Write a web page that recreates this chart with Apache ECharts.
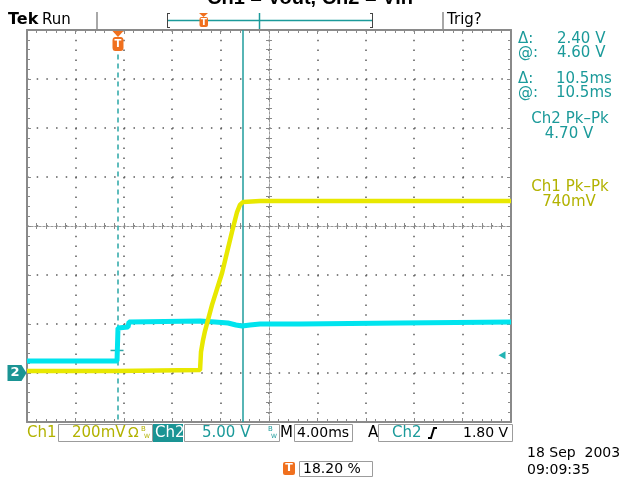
<!DOCTYPE html>
<html><head><meta charset="utf-8">
<script src="https://cdn.jsdelivr.net/npm/echarts/dist/echarts.min.js"></script>
<style>html,body{margin:0;padding:0;background:#fff}#c{width:624px;height:479px}</style>
</head><body><div id="c"></div>
<script>
// ---- data ----
const titleText = 'Ch1 = Vout, Ch2 = Vin';
const msPerDiv = 4;          // M 4.00ms
const ch1VoltsPerDiv = 0.2;  // 200mV
const ch2VoltsPerDiv = 5;    // 5.00 V
const groundDiv = -3;        // ground reference position (divisions from centre)

// Ch1 (Vout, yellow): time in ms from left edge, volts
const ch1Time  = [0, 7.44, 7.52, 14.30, 14.38, 14.55, 14.71, 15.29, 16.12, 16.94, 17.36, 17.60, 17.85, 19.26, 40];
const ch1Volts = [0.008, 0.008, 0.012, 0.012, 0.086, 0.135, 0.171, 0.278, 0.408, 0.576, 0.657, 0.686, 0.698, 0.702, 0.702];

// Ch2 (Vin, cyan)
const ch2Time  = [0, 7.44, 7.52, 8.35, 8.43, 14.30, 15.54, 16.61, 17.27, 17.77, 18.43, 19.26, 22.56, 30.83, 40];
const ch2Volts = [1.22, 1.22, 4.59, 4.69, 5.20, 5.31, 5.20, 5.10, 4.90, 4.80, 4.90, 5.00, 5.00, 5.10, 5.20];

const triggerTime = 7.52;    // trigger position (ms)
const cursorTime = 17.85;    // vertical cursor (ms)
const triggerLevel = 1.8;    // Ch2 trigger level (V)
const trigCrossLevel = 2.3;  // small cross at trigger point (V)

const cursorReadouts = [['Δ:', '2.40 V'], ['@:', '4.60 V'], ['Δ:', '10.5ms'], ['@:', '10.5ms']];
const ch2Measure = ['Ch2 Pk–Pk', '4.70 V'];
const ch1Measure = ['Ch1 Pk–Pk', '740mV'];
const ch1Scale = '200mV', ch2Scale = '5.00 V', timeScale = '4.00ms', trigSource = 'Ch2', trigLevelText = '1.80 V';
const dateText = '18 Sep  2003', timeText = '09:09:35', recordPos = '18.20 %';

// ---- styling ----
const TEAL = '#1b9a9a', OLIVE = '#b2b200', ORANGE = '#f0701e';
const CYAN = '#00e4ee', YELLOW = '#e8e800';
const F = '"DejaVu Sans", sans-serif';
const GRAY = '#8a8a8a';

const chart = echarts.init(document.getElementById('c'), null, {renderer: 'canvas'});

const ch1Data = ch1Time.map((t, i) => [t, ch1Volts[i]]);
const ch2Data = ch2Time.map((t, i) => [t, ch2Volts[i]]);

const tickStyle = {color: GRAY, width: 1};
const dotColor = '#5a5a5a';
function frameX(pos, split) {
  return {type: 'value', min: 0, max: 10 * msPerDiv, interval: msPerDiv, position: pos,
    axisLine: {show: true, onZero: false, lineStyle: {color: GRAY, width: 2}},
    axisTick: {show: true, inside: true, length: 4, lineStyle: tickStyle},
    minorTick: {show: true, splitNumber: 5, length: 3, lineStyle: tickStyle},
    axisLabel: {show: false},
    splitLine: {show: split, lineStyle: {color: dotColor, width: 1.5, type: [1.5, 8.3]}},
    minorSplitLine: {show: false}};
}
function frameY(pos, split) {
  return {type: 'value', min: -4, max: 4, interval: 1, position: pos,
    axisLine: {show: true, onZero: false, lineStyle: {color: GRAY, width: 2}},
    axisTick: {show: true, inside: true, length: 4, lineStyle: tickStyle},
    minorTick: {show: true, splitNumber: 5, length: 3, lineStyle: tickStyle},
    axisLabel: {show: false},
    splitLine: {show: split, lineStyle: {color: dotColor, width: 1.5, type: [1.5, 8.18]}},
    minorSplitLine: {show: false}};
}
function centerX(inside) {
  return {type: 'value', min: 0, max: 10 * msPerDiv, interval: msPerDiv, position: 'bottom',
    axisLine: {show: true, onZero: true, onZeroAxisIndex: 0, lineStyle: {color: '#9a9a9a', width: 1, type: [2, 2]}},
    axisTick: {show: true, inside: inside, length: 3, lineStyle: tickStyle},
    minorTick: {show: true, splitNumber: 5, length: 3, lineStyle: tickStyle},
    axisLabel: {show: false}, splitLine: {show: false}};
}
function centerY(inside) {
  return {type: 'value', min: -4, max: 4, interval: 1, position: 'left',
    axisLine: {show: true, onZero: true, onZeroAxisIndex: 4, lineStyle: {color: '#9a9a9a', width: 1, type: [2, 2]}},
    axisTick: {show: true, inside: inside, length: 3, lineStyle: tickStyle},
    minorTick: {show: true, splitNumber: 5, length: 3, lineStyle: tickStyle},
    axisLabel: {show: false}, splitLine: {show: false}};
}

function txt(x, y, text, color, size, extra) {
  return {type: 'text', x: x, y: y, silent: true, z: 100,
    style: Object.assign({text: text, fill: color, font: size + 'px ' + F, align: 'left', verticalAlign: 'middle'}, extra || {})};
}
function box(x, y, w, h, fill, stroke) {
  return {type: 'rect', silent: true, shape: {x: x, y: y, width: w, height: h},
    style: {fill: fill || 'none', stroke: stroke || '#9c9c9c', lineWidth: 1}};
}
function ln(x1, y1, x2, y2, color, w) {
  return {type: 'line', silent: true, shape: {x1: x1, y1: y1, x2: x2, y2: y2}, style: {stroke: color, lineWidth: w || 1}};
}

const graphics = [
  // title (top clipped as in the screenshot)
  txt(310, 8, titleText, '#000', 20, {font: 'bold 20px "Liberation Sans", Arial, sans-serif', align: 'center', verticalAlign: 'bottom'}),
  // header
  txt(8, 20, 'Tek', '#000', 16, {font: 'bold 16px ' + F}),
  txt(42, 20, 'Run', '#000', 15),
  ln(97, 12, 97, 29, '#a8a8a8', 2),
  ln(443, 12, 443, 29, '#a8a8a8', 2),
  ln(167, 20.5, 372, 20.5, TEAL, 1.5),
  ln(167.5, 13, 167.5, 28, '#444', 1), ln(167, 13.5, 170, 13.5, '#444', 1), ln(167, 27.5, 170, 27.5, '#444', 1),
  ln(372.5, 13, 372.5, 28, '#444', 1), ln(370, 13.5, 373, 13.5, '#444', 1), ln(370, 27.5, 373, 27.5, '#444', 1),
  ln(259.5, 13, 259.5, 29, TEAL, 1.5),
  {type: 'polygon', silent: true, shape: {points: [[199, 13], [208, 13], [203.5, 17]]}, style: {fill: ORANGE}},
  {type: 'rect', silent: true, shape: {x: 199.5, y: 17, width: 8.5, height: 10, r: 2}, style: {fill: ORANGE}},
  txt(203.8, 22.3, 'T', '#fff', 9, {font: 'bold 9px ' + F, align: 'center'}),
  txt(447, 20, 'Trig?', '#000', 15),
  // bottom status bar
  txt(27, 433, 'Ch1', OLIVE, 15),
  box(58.5, 424.5, 94, 17),
  txt(72, 433, ch1Scale, OLIVE, 15),
  txt(128, 433, 'Ω', OLIVE, 14),
  txt(141, 429, 'B', OLIVE, 7), txt(144, 436, 'W', OLIVE, 6),
  {type: 'rect', silent: true, shape: {x: 153, y: 424, width: 30, height: 18}, style: {fill: '#1a9494'}},
  txt(155, 433, 'Ch2', '#fff', 15),
  box(184.5, 424.5, 95, 17),
  txt(202, 433, ch2Scale, TEAL, 15),
  txt(268, 429, 'B', TEAL, 7), txt(271, 436, 'W', TEAL, 6),
  txt(280, 433, 'M', '#000', 15),
  box(294.5, 424.5, 58, 17),
  txt(297, 433, timeScale, '#000', 14),
  txt(368, 433, 'A', '#000', 15),
  box(378.5, 424.5, 134, 17),
  txt(392, 433, trigSource, TEAL, 15),
  {type: 'polyline', silent: true, shape: {points: [[428, 438], [431, 438], [434, 428], [437, 428]]}, style: {stroke: '#000', lineWidth: 2, fill: null}},
  txt(463, 433, trigLevelText, '#000', 14),
  txt(527, 453, dateText, '#000', 14),
  txt(527, 470, timeText, '#000', 14),
  {type: 'rect', silent: true, shape: {x: 283, y: 462, width: 12, height: 13, r: 2}, style: {fill: ORANGE}},
  txt(289, 468.5, 'T', '#fff', 11, {font: 'bold 11px ' + F, align: 'center'}),
  box(299.5, 461.5, 73, 15),
  txt(303, 469, recordPos, '#000', 14),
  // right side readouts
  ...cursorReadouts.map((r, i) => txt(518, [39, 53, 79, 93][i], r[0], TEAL, 15)),
  ...cursorReadouts.map((r, i) => txt([557, 557, 556, 556][i], [39, 53, 79, 93][i], r[1], TEAL, 15)),
  txt(570, 119, ch2Measure[0], TEAL, 15, {align: 'center'}),
  txt(569, 134, ch2Measure[1], TEAL, 15, {align: 'center'}),
  txt(570, 187, ch1Measure[0], OLIVE, 15, {align: 'center'}),
  txt(569, 202, ch1Measure[1], OLIVE, 15, {align: 'center'})
];

const option = {
  animation: false,
  backgroundColor: '#fff',
  grid: {left: 27, top: 30, width: 484, height: 392, containLabel: false},
  xAxis: [
    frameX('bottom', true),
    frameX('top', false),
    centerX(true),
    centerX(false),
    {type: 'value', min: -20, max: 20, show: false}
  ],
  yAxis: [
    frameY('left', true),
    frameY('right', false),
    centerY(true),
    centerY(false),
    {type: 'value', show: false, min: (-4 - groundDiv) * ch1VoltsPerDiv, max: (4 - groundDiv) * ch1VoltsPerDiv},
    {type: 'value', show: false, min: (-4 - groundDiv) * ch2VoltsPerDiv, max: (4 - groundDiv) * ch2VoltsPerDiv}
  ],
  graphic: graphics,
  series: [
    {
      name: 'markers', type: 'line', xAxisIndex: 0, yAxisIndex: 0, data: [], silent: true,
      markLine: {
        silent: true, symbol: 'none', label: {show: false}, animation: false,
        data: [
          [{coord: [triggerTime, 3.5], lineStyle: {color: '#2aa6a6', type: [5, 4], width: 1.5}}, {coord: [triggerTime, -4]}],
          {xAxis: cursorTime, lineStyle: {color: '#1f9c9c', type: 'solid', width: 1.5}}
        ]
      },
      markPoint: {
        silent: true, animation: false,
        data: [
          {coord: [triggerTime, 4], symbol: 'triangle', symbolRotate: 180, symbolSize: [11, 6], symbolOffset: [0, 4],
            itemStyle: {color: ORANGE}, label: {show: false}},
          {coord: [triggerTime, 4], symbol: 'roundRect', symbolSize: [11, 14], symbolOffset: [0, 14],
            itemStyle: {color: ORANGE},
            label: {show: true, position: 'inside', formatter: 'T', color: '#fff', fontWeight: 'bold', fontSize: 10, fontFamily: 'DejaVu Sans'}}
        ]
      }
    },
    {
      name: 'Ch2', type: 'line', xAxisIndex: 0, yAxisIndex: 5, data: ch2Data, showSymbol: false, symbol: 'none',
      lineStyle: {color: CYAN, width: 5}, itemStyle: {color: CYAN}, z: 5,
      markPoint: {
        silent: true, animation: false,
        data: [
          {coord: [0, 0], symbol: 'path://M0,0 L14,0 L19,8 L14,16 L0,16 Z', symbolSize: [19, 16], symbolOffset: [-10, 0],
            itemStyle: {color: '#1a9494'},
            label: {show: true, position: 'inside', formatter: '2', color: '#fff', fontWeight: 'bold', fontSize: 13, fontFamily: 'DejaVu Sans', offset: [-2, 0]}},
          {coord: [10 * msPerDiv, triggerLevel], symbol: 'triangle', symbolRotate: 90, symbolSize: [8, 7], symbolOffset: [-9, 0],
            itemStyle: {color: '#22b4b4'}, label: {show: false}},
          {coord: [triggerTime - 0.08, trigCrossLevel], symbol: 'rect', symbolSize: [13, 1.5],
            itemStyle: {color: '#2aa6a6'}, label: {show: false}}
        ]
      }
    },
    {
      name: 'Ch1', type: 'line', xAxisIndex: 0, yAxisIndex: 4, data: ch1Data, showSymbol: false, symbol: 'none',
      lineStyle: {color: YELLOW, width: 4.5}, itemStyle: {color: YELLOW}, z: 6
    }
  ]
};
chart.setOption(option);
</script></body></html>
